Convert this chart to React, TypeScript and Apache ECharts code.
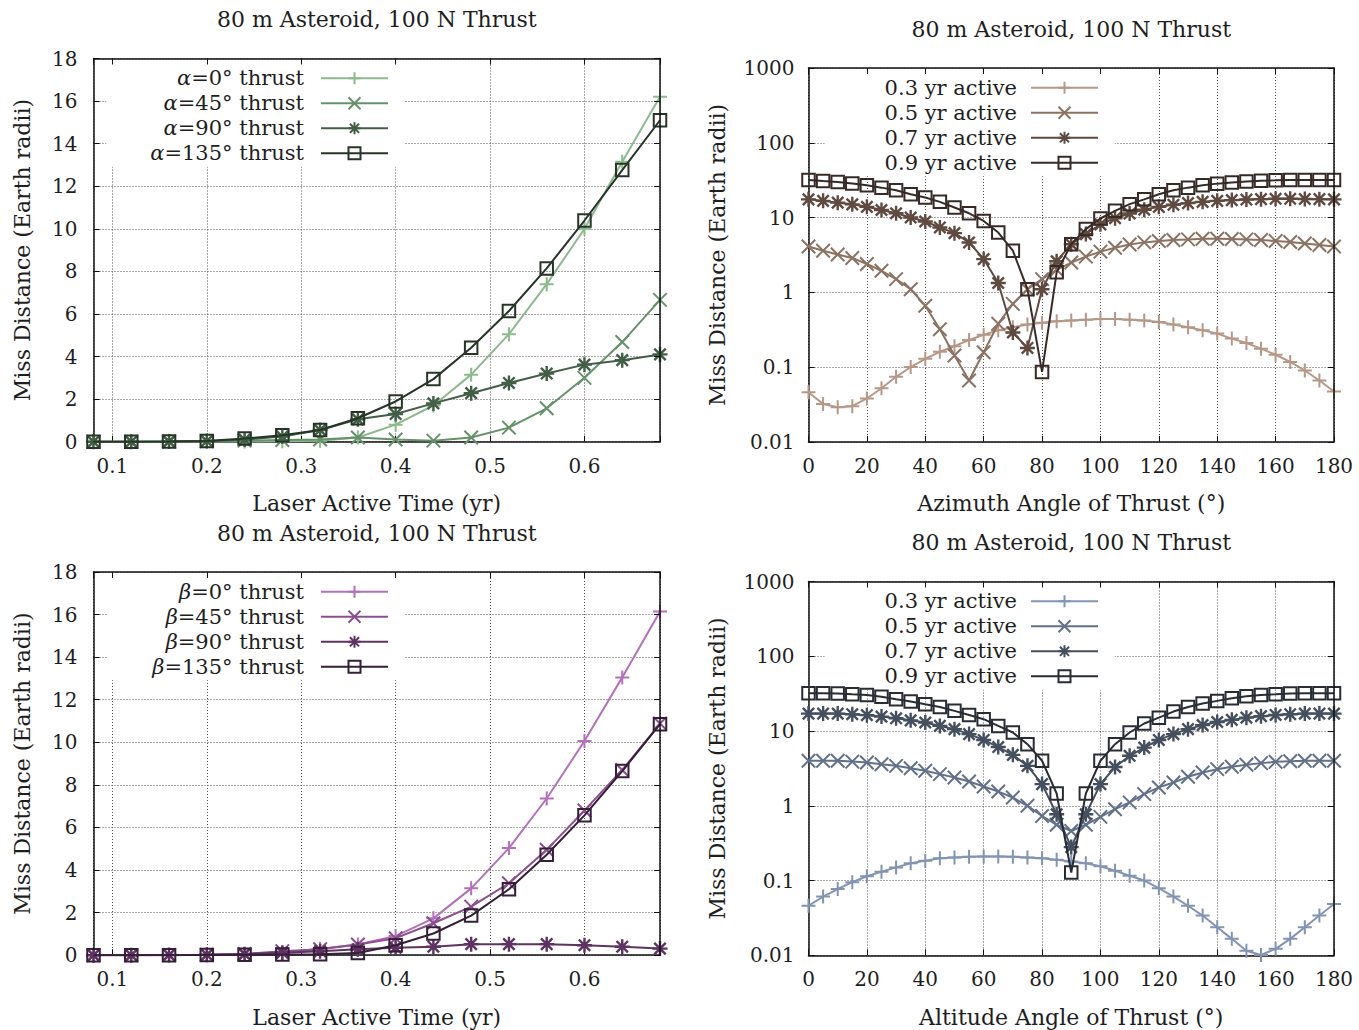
import React, { useEffect, useRef } from 'react';
import * as echarts from 'echarts';

// ---------- data ----------
const years = [0.08, 0.12, 0.16, 0.2, 0.24, 0.28, 0.32, 0.36, 0.4, 0.44, 0.48, 0.52, 0.56, 0.6, 0.64, 0.68];

const alpha0 = [0.0, 0.0, 0.0, 0.01, 0.01, 0.02, 0.05, 0.2, 0.8, 1.7, 3.15, 5.05, 7.4, 10.0, 13.15, 16.2];
const alpha45 = [0.0, 0.0, 0.01, 0.02, 0.05, 0.08, 0.1, 0.2, 0.1, 0.05, 0.2, 0.66, 1.57, 3.0, 4.68, 6.66];
const alpha90 = [0.0, 0.0, 0.01, 0.03, 0.1, 0.24, 0.55, 1.05, 1.3, 1.8, 2.28, 2.76, 3.2, 3.62, 3.83, 4.1];
const alpha135 = [0.0, 0.0, 0.01, 0.03, 0.15, 0.3, 0.55, 1.1, 1.89, 2.94, 4.41, 6.14, 8.14, 10.39, 12.76, 15.1];

const beta0 = [0.0, 0.0, 0.01, 0.02, 0.05, 0.12, 0.3, 0.5, 0.9, 1.73, 3.14, 5.03, 7.36, 10.06, 13.05, 16.15];
const beta45 = [0.0, 0.0, 0.01, 0.02, 0.06, 0.19, 0.28, 0.5, 0.8, 1.5, 2.28, 3.38, 4.95, 6.8, 8.7, 10.88];
const beta90 = [0.0, 0.0, 0.01, 0.02, 0.05, 0.12, 0.19, 0.28, 0.35, 0.4, 0.52, 0.52, 0.52, 0.47, 0.4, 0.31];
const beta135 = [0.0, 0.0, 0.0, 0.01, 0.02, 0.03, 0.05, 0.1, 0.47, 1.02, 1.86, 3.1, 4.72, 6.57, 8.65, 10.85];

const angles = [0, 5, 10, 15, 20, 25, 30, 35, 40, 45, 50, 55, 60, 65, 70, 75, 80, 85, 90, 95, 100, 105, 110, 115, 120, 125, 130, 135, 140, 145, 150, 155, 160, 165, 170, 175, 180];

const az03 = [0.046, 0.032, 0.029, 0.030, 0.038, 0.052, 0.074, 0.10, 0.129, 0.16, 0.19, 0.23, 0.27, 0.31, 0.34, 0.37, 0.39, 0.41, 0.42, 0.43, 0.44, 0.44, 0.43, 0.42, 0.40, 0.37, 0.34, 0.31, 0.28, 0.24, 0.21, 0.176, 0.146, 0.117, 0.09, 0.066, 0.047];
const az05 = [4.1, 3.6, 3.2, 2.87, 2.39, 1.94, 1.5, 1.1, 0.66, 0.32, 0.143, 0.066, 0.158, 0.38, 0.7, 1.1, 1.5, 2.0, 2.5, 3.0, 3.5, 3.95, 4.35, 4.65, 4.85, 5.0, 5.1, 5.2, 5.2, 5.15, 5.1, 5.0, 4.85, 4.7, 4.5, 4.3, 4.1];
const az07 = [17.5, 16.7, 15.8, 15.0, 13.9, 12.6, 11.4, 10.0, 8.85, 7.36, 6.18, 4.64, 2.78, 1.33, 0.29, 0.18, 1.1, 2.6, 4.4, 6.0, 8.1, 9.8, 11.3, 12.7, 13.9, 14.8, 15.6, 16.2, 16.7, 17.1, 17.4, 17.6, 17.8, 17.8, 17.7, 17.6, 17.5];
const az09 = [31.8, 30.8, 29.9, 28.6, 27.0, 25.1, 23.1, 20.5, 18.5, 16.2, 13.6, 11.4, 9.0, 6.3, 3.6, 1.1, 0.086, 1.85, 4.4, 7.0, 9.7, 12.3, 15.1, 17.5, 20.5, 23.1, 25.1, 27.0, 28.4, 29.5, 30.4, 31.1, 31.4, 31.8, 31.8, 31.8, 31.8];

const al03 = [0.046, 0.061, 0.077, 0.095, 0.114, 0.131, 0.15, 0.17, 0.184, 0.198, 0.204, 0.208, 0.21, 0.21, 0.208, 0.204, 0.198, 0.19, 0.18, 0.17, 0.155, 0.135, 0.116, 0.1, 0.079, 0.061, 0.046, 0.034, 0.0237, 0.0166, 0.0115, 0.0101, 0.0122, 0.0166, 0.0237, 0.034, 0.0485];
const al05 = [4.0, 4.0, 4.0, 3.9, 3.8, 3.6, 3.42, 3.18, 2.94, 2.65, 2.39, 2.11, 1.81, 1.55, 1.29, 1.0, 0.73, 0.557, 0.46, 0.557, 0.71, 0.9, 1.11, 1.43, 1.76, 2.05, 2.44, 2.79, 3.09, 3.32, 3.53, 3.72, 3.87, 3.95, 4.0, 4.0, 4.0];
const al07 = [17.1, 17.1, 17.1, 16.8, 16.3, 15.6, 14.8, 13.9, 13.0, 11.7, 10.6, 9.1, 7.6, 6.1, 4.8, 3.42, 1.95, 0.77, 0.28, 0.77, 1.95, 3.3, 4.66, 6.0, 7.6, 9.1, 10.6, 12.0, 13.2, 14.1, 15.1, 15.8, 16.4, 16.8, 17.1, 17.1, 17.1];
const al09 = [32, 32, 31.8, 31.0, 30.4, 28.8, 26.6, 24.8, 22.8, 21.0, 18.6, 16.4, 14.4, 11.7, 9.55, 6.67, 4.0, 1.46, 0.128, 1.46, 4.0, 6.67, 9.55, 12.6, 15.1, 18.2, 21.0, 23.3, 25.3, 27.4, 29.1, 30.4, 31.0, 31.7, 32, 32, 32];

const alphaLabels = ['0', '45', '90', '135'];
const activeLabels = ['0.3', '0.5', '0.7', '0.9'];
const leftYTicks = [0, 18, 2];
const logRange = [0.01, 1000];

const titleText = '80 m Asteroid, 100 N Thrust';

// ---------- styling ----------
const FONT = '"DejaVu Serif", "Liberation Serif", serif';
const TXT = '#1e1e1e';
const W = 1359;

const greens = ['#8dba8d', '#66916a', '#435e47', '#263527'];
const purples = ['#b370bb', '#8b4f8e', '#5e3361', '#341e38'];
const browns = ['#b69888', '#8c7263', '#5f4a41', '#372a26'];
const blues = ['#8394b2', '#627189', '#454f5d', '#282d35'];

const SYM_PLUS = 'path://M5,0L5,10M0,5L10,5';
const SYM_X = 'path://M0,0L10,10M10,0L0,10';
const SYM_STAR = 'path://M5,0L5,10M0,5L10,5M1.2,1.2L8.8,8.8M8.8,1.2L1.2,8.8';
const SYM_SQ = 'path://M0,0L10,0L10,10L0,10Z';
const symbols = [SYM_PLUS, SYM_X, SYM_STAR, SYM_SQ];
const symSizes = [14, 13.5, 15, 12.5];

type Panel = {
  grid: { left: number; top: number; width: number; height: number };
  log: boolean;
};

const panels: Panel[] = [
  { grid: { left: 93.5, top: 58.5, width: 566.5, height: 383.2 }, log: false },
  { grid: { left: 808.5, top: 68, width: 525.5, height: 373.8 }, log: true },
  { grid: { left: 93.5, top: 572, width: 566.5, height: 383.2 }, log: false },
  { grid: { left: 808.5, top: 581.5, width: 525.5, height: 373.8 }, log: true },
];

function zip(xs: number[], ys: number[]) {
  return xs.map((x, i) => [x, ys[i]]);
}

function buildOption() {
  const grids = panels.map((p) => ({ ...p.grid, containLabel: false }));
  const xAxes: any[] = [];
  const yAxes: any[] = [];
  const axisLine = { show: true, onZero: false, lineStyle: { color: '#111', width: 1.5 } };
  const tick = { show: true, inside: true, length: 6, lineStyle: { color: '#111', width: 1 } };
  const split = { show: true, lineStyle: { color: '#555', width: 1, type: [1, 2] } };
  const label = { color: TXT, fontFamily: FONT, fontSize: 20 };

  panels.forEach((p, gi) => {
    if (!p.log) {
      const xCommon = { type: 'value', gridIndex: gi, min: years[0], max: years[years.length - 1], splitNumber: 6 };
      xAxes.push({
        ...xCommon, position: 'bottom', axisLine, axisTick: tick, splitLine: split,
        axisLabel: {
          ...label, margin: 14,
          formatter: (v: number) => (Math.abs(v * 10 - Math.round(v * 10)) < 1e-6 ? v.toFixed(1) : ''),
        },
      });
      xAxes.push({ ...xCommon, position: 'top', z: 10, axisLine, axisTick: tick, splitLine: { show: false }, axisLabel: { show: false } });
      const yCommon = { type: 'value', gridIndex: gi, min: leftYTicks[0], max: leftYTicks[1], interval: leftYTicks[2] };
      yAxes.push({ ...yCommon, position: 'left', axisLine, axisTick: tick, splitLine: split, axisLabel: { ...label, margin: 16 } });
      yAxes.push({ ...yCommon, position: 'right', z: 10, axisLine, axisTick: tick, splitLine: { show: false }, axisLabel: { show: false } });
    } else {
      const xCommon = { type: 'value', gridIndex: gi, min: angles[0], max: angles[angles.length - 1], interval: 20 };
      xAxes.push({ ...xCommon, position: 'bottom', axisLine, axisTick: tick, splitLine: split, axisLabel: { ...label, margin: 14 } });
      xAxes.push({ ...xCommon, position: 'top', z: 10, axisLine, axisTick: tick, splitLine: { show: false }, axisLabel: { show: false } });
      const yCommon = { type: 'log', logBase: 10, gridIndex: gi, min: logRange[0], max: logRange[1] };
      yAxes.push({
        ...yCommon, position: 'left', axisLine, axisTick: tick, splitLine: split,
        axisLabel: {
          ...label, margin: 14,
          formatter: (v: number) => {
            const e = Math.round(Math.log10(v));
            return e >= 0 ? String(Math.pow(10, e)) : Math.pow(10, e).toFixed(-e);
          },
        },
      });
      yAxes.push({ ...yCommon, position: 'right', z: 10, axisLine, axisTick: tick, splitLine: { show: false }, axisLabel: { show: false } });
    }
  });

  const names: Record<string, string> = {};
  const series: any[] = [];
  const addSeries = (id: string, display: string, gi: number, xs: number[], ys: number[], k: number, color: string) => {
    names[id] = display;
    series.push({
      name: id,
      type: 'line',
      xAxisIndex: gi * 2,
      yAxisIndex: gi * 2,
      data: zip(xs, ys),
      smooth: false,
      symbol: symbols[k],
      symbolSize: symSizes[k],
      showAllSymbol: true,
      lineStyle: { color, width: 2 },
      itemStyle: { color: k === 3 ? 'rgba(255,255,255,0)' : color, borderColor: color, borderWidth: k === 2 ? 2.4 : 2 },
      emphasis: { disabled: true },
      z: 3 + k,
    });
  };

  [alpha0, alpha45, alpha90, alpha135].forEach((ys, k) =>
    addSeries('tl' + k, `{i|α}=${alphaLabels[k]}° thrust`, 0, years, ys, k, greens[k]));
  [az03, az05, az07, az09].forEach((ys, k) =>
    addSeries('tr' + k, `${activeLabels[k]} yr active`, 1, angles, ys, k, browns[k]));
  [beta0, beta45, beta90, beta135].forEach((ys, k) =>
    addSeries('bl' + k, `{i|β}=${alphaLabels[k]}° thrust`, 2, years, ys, k, purples[k]));
  [al03, al05, al07, al09].forEach((ys, k) =>
    addSeries('br' + k, `${activeLabels[k]} yr active`, 3, angles, ys, k, blues[k]));

  const mkLegend = (prefix: string, boxRight: number, top: number, padL: number, textPadR: number) => ({
    data: [0, 1, 2, 3].map((k) => prefix + k),
    orient: 'vertical',
    align: 'right',
    right: W - boxRight,
    top,
    padding: [8.5, 16, 3, padL],
    itemWidth: 67,
    itemHeight: 15,
    itemGap: 4,
    backgroundColor: '#ffffff',
    selectedMode: false,
    formatter: (n: string) => names[n],
    textStyle: {
      color: TXT, fontFamily: FONT, fontSize: 21, padding: [0, textPadR, 0, 0],
      rich: { i: { fontFamily: FONT, fontSize: 21, fontStyle: 'italic', color: TXT } },
    },
  });

  const legends = [
    mkLegend('tl', 405, panels[0].grid.top + 0.8, 44, 12),
    mkLegend('tr', 1115, panels[1].grid.top + 0.8, 60, 9),
    mkLegend('bl', 405, panels[2].grid.top + 0.8, 44, 12),
    mkLegend('br', 1115, panels[3].grid.top + 0.8, 60, 9),
  ];

  const txt = (text: string, x: number, y: number, rot = 0) => ({
    type: 'text', x, y, rotation: rot, silent: true,
    style: {
      text, fill: TXT, fontFamily: FONT, fontSize: 22,
      align: 'center', verticalAlign: 'middle', textAlign: 'center', textVerticalAlign: 'middle',
    },
  });
  const cx = (p: Panel) => p.grid.left + p.grid.width / 2;
  const cy = (p: Panel) => p.grid.top + p.grid.height / 2;

  const graphic = [
    txt(titleText, cx(panels[0]), 19),
    txt(titleText, cx(panels[1]), 29),
    txt(titleText, cx(panels[2]), 533),
    txt(titleText, cx(panels[3]), 542),
    txt('Laser Active Time (yr)', cx(panels[0]), 503),
    txt('Azimuth Angle of Thrust (°)', cx(panels[1]), 503),
    txt('Laser Active Time (yr)', cx(panels[2]), 1017),
    txt('Altitude Angle of Thrust (°)', cx(panels[3]), 1017),
    txt('Miss Distance (Earth radii)', 22, cy(panels[0]), Math.PI / 2),
    txt('Miss Distance (Earth radii)', 717, cy(panels[1]), Math.PI / 2),
    txt('Miss Distance (Earth radii)', 22, cy(panels[2]), Math.PI / 2),
    txt('Miss Distance (Earth radii)', 717, cy(panels[3]), Math.PI / 2),
  ];

  return {
    animation: false,
    backgroundColor: '#ffffff',
    grid: grids,
    xAxis: xAxes,
    yAxis: yAxes,
    legend: legends,
    series,
    graphic,
  };
}

export default function App() {
  const ref = useRef<HTMLDivElement>(null);
  useEffect(() => {
    const chart = echarts.init(ref.current!, null, { renderer: 'svg' });
    chart.setOption(buildOption() as any);
    return () => chart.dispose();
  }, []);
  return (
    <div
      ref={ref}
      style={{ position: 'absolute', left: 0, top: 0, width: 1359, height: 1030, background: '#fff' }}
    />
  );
}
